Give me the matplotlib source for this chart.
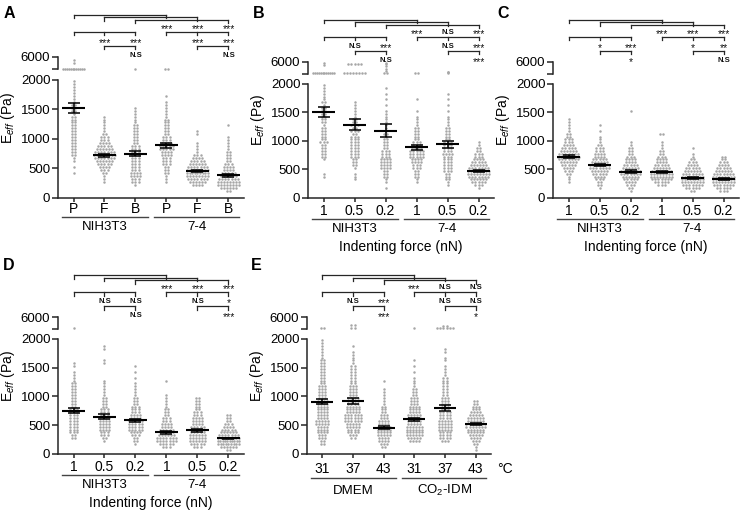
import numpy as np
import matplotlib
matplotlib.use('Agg')
import matplotlib.pyplot as plt
from matplotlib.transforms import blended_transform_factory

plt.rcParams['font.family'] = ['Liberation Sans', 'DejaVu Sans']
plt.rcParams['mathtext.fontset'] = 'custom'
plt.rcParams['mathtext.rm'] = 'Liberation Sans'
plt.rcParams['mathtext.it'] = 'Liberation Sans:italic'
plt.rcParams['mathtext.bf'] = 'Liberation Sans:bold'

# dots per 50 Pa row, from 0 Pa upward; values above the axis break kept apart
BIN = 50

counts_A = [
    [0,0,0,0,0,0,0,0,1,0, 1,0,1,1,2,2,2,2,2,2, 2,2,2,2,2,2,2,2,1,2, 2,2,1,1,1,1,1,1,1,1],
    [0,0,0,0,0,1,1,1,2,3, 4,5,6,7,8,7,6,5,4,3, 3,2,1,1,1,1,1,1],
    [0,0,0,0,1,3,3,4,4,3, 3,3,3,3,3,3,3,3,2,2, 2,2,2,2,2,1,1,1,1,1, 1],
    [0,0,0,0,0,1,1,1,2,2, 2,3,3,3,4,4,5,5,4,3, 3,2,2,2,2,2,2,1,1,1, 1,1,1,0,1],
    [0,0,0,0,4,6,7,8,9,8, 7,6,5,4,3,1,1,1,1,0, 0,1,1],
    [0,0,2,6,8,8,7,6,5,4, 4,3,2,2,2,2,1,1,1,1, 1,0,0,0,1],
]
high_A = [[2300] * 12 + [4000, 5000], [], [2300], [2300, 2300], [], []]
mean_A = [1520, 720, 750, 890, 450, 380]
sem_A = [90, 22, 40, 45, 15, 20]
stars_A = ['***', '***', '***', '***', '***', '***', '***', 'N.S', 'N.S']

counts_B = [
    [0,0,0,0,0,0,0,1,1,0, 0,0,0,1,2,2,2,2,2,3, 2,2,2,2,2,1,2,2,2,2, 2,2,1,2,1,1,1,1,1,1],
    [0,0,0,0,0,0,1,1,1,0, 1,2,2,2,3,3,3,3,3,3, 3,3,2,3,2,3,2,2,1,1, 1,1,1,1],
    [0,0,0,1,0,1,1,2,2,2, 4,4,4,4,3,3,3,2,2,2, 2,1,2,1,1,1,1,1,1,1, 1,0,1,0,1,0,1,0,1],
    [0,0,0,0,0,1,1,2,2,2, 3,3,4,4,5,5,5,4,3,3, 2,2,2,2,2,1,1,1,1,0, 1,0,0,0,1],
    [0,0,0,0,1,1,2,2,2,3, 3,3,3,3,3,4,3,3,3,3, 2,2,2,2,2,1,1,1,1,0, 1,0,1,0,1,0,1],
    [0,0,0,1,3,5,6,7,8,8, 7,6,5,4,3,3,2,2,1,1],
]
high_B = [[2300] * 12 + [5000, 5600], [2300] * 8 + [5200] * 5,
          [2300, 2300, 3000, 3800, 4500, 5200, 5600], [2300, 2300], [2300, 2500, 2800], []]
mean_B = [1500, 1280, 1180, 890, 940, 470]
sem_B = [90, 95, 110, 45, 60, 15]
stars_B = ['***', 'N.S', '***', 'N.S', '***', 'N.S', '***', 'N.S', '***']

counts_C = [
    [0,0,0,0,0,1,1,1,2,3, 4,5,6,7,8,7,6,5,4,3, 3,2,2,1,1,1,1,1],
    [0,0,0,1,2,2,3,4,5,6, 7,7,6,5,4,4,3,3,2,1, 1,1,0,1,0,1],
    [0,0,1,2,3,4,5,6,7,7, 6,5,4,4,3,2,2,2,1,1, 0,0,0,0,0,0,0,0,0,0, 1],
    [0,0,0,0,3,5,7,8,8,7, 6,5,4,4,3,2,2,1,1,1, 0,0,2],
    [0,0,2,5,7,8,9,8,7,6, 5,4,3,2,1,1,0,1],
    [0,0,3,5,7,8,9,8,7,6, 5,4,3,2,2],
]
high_C = [[], [], [], [], [], []]
mean_C = [720, 580, 460, 450, 350, 330]
sem_C = [25, 22, 22, 20, 12, 12]
stars_C = ['***', '***', '***', '*', '***', '*', '**', '*', 'N.S']

counts_D = [
    [0,0,0,0,0,2,2,3,3,3, 3,3,3,3,3,3,2,2,2,2, 2,2,2,2,2,1,1,1,1,0, 1,1],
    [0,0,0,0,1,2,3,3,4,4, 4,4,4,3,3,3,2,2,2,2, 1,1,1,1,1,1,0,0,0,0, 0,1,1,0,0,0,1,1],
    [0,0,0,1,2,2,3,4,5,5, 5,5,4,4,3,3,3,2,2,2, 1,1,1,1,1,0,1,0,1,0, 1],
    [0,0,3,5,7,7,6,5,5,4, 4,3,3,2,2,2,1,1,1,1, 1,0,0,0,0,1],
    [0,0,3,5,6,6,6,5,5,5, 4,4,4,3,3,2,2,2,2,2],
    [0,2,6,9,10,9,7,6,5,4, 3,2,2,2],
]
high_D = [[2300], [], [], [], [], []]
mean_D = [750, 650, 585, 380, 410, 270]
sem_D = [45, 40, 30, 25, 22, 12]
stars_D = ['***', '***', '***', 'N.S', 'N.S', 'N.S', '*', 'N.S', '***']

counts_E = [
    [0,0,0,2,2,3,3,4,4,4, 5,5,4,4,4,4,4,4,4,3, 3,3,3,3,2,2,2,2,2,2, 2,2,2,1,1,1,1,1,1,1],
    [0,0,0,0,0,2,3,4,4,5, 5,6,6,6,5,5,5,4,4,4, 3,3,3,3,2,2,2,2,2,2, 2,1,1,1,1,1,0,1],
    [0,0,2,3,4,4,5,5,5,5, 4,4,3,3,2,2,2,1,1,1, 1,1,1,0,0,1],
    [0,0,0,0,4,5,6,6,6,6, 5,5,5,5,4,4,4,3,3,3, 2,2,2,1,1,1,1,0,1,0, 1,0,1],
    [0,0,0,0,3,4,4,4,5,5, 5,5,4,4,4,3,3,3,3,3, 2,2,2,2,2,2,2,1,1,1, 1,0,1,1,0,1,1],
    [0,1,1,2,3,4,5,6,6,7, 7,6,6,5,4,3,3,2,2],
]
high_E = [[2300, 2300], [2300, 2300, 3500, 3500], [], [2300], [2300] * 6 + [3000, 3000], []]
mean_E = [910, 920, 460, 600, 800, 520]
sem_E = [50, 45, 25, 30, 50, 22]
stars_E = ['***', 'N.S', 'N.S', 'N.S', '***', 'N.S', 'N.S', '***', '*']

ticks_cells = ['P', 'F', 'B', 'P', 'F', 'B']
ticks_force = ['1', '0.5', '0.2', '1', '0.5', '0.2']
ticks_temp = ['31', '37', '43', '31', '37', '43']
groups_cells = ['NIH3T3', '7-4']
groups_media = ['DMEM', 'CO$_2$-IDM']

DOT = '#a6a6a6'
AXC = '#262626'
W, H = 740, 515


# broken y axis: 0-2000 linear, then a short compressed part up to 6000
def fwd(v):
    v = np.asarray(v, float)
    return np.where(v <= 2000, v, 2170 + (v - 2000) * 0.0525)


def inv(t):
    t = np.asarray(t, float)
    return np.where(t <= 2000, t, 2000 + np.clip(t - 2170, 0, None) / 0.0525)


def dot_rows(x, counts, high):
    rows = [(BIN * i + BIN / 2, n) for i, n in enumerate(counts) if n]
    if high:
        vals, nums = np.unique(high, return_counts=True)
        rows += list(zip(vals, nums))
    xs, ys = [], []
    for v, n in rows:
        step = min(0.1, 0.75 / n)
        xs.extend(x + (np.arange(n) - (n - 1) / 2) * step)
        ys.extend([v] * n)
    return xs, ys


def bracket(ax, hpx, xs, up, drop=3.5):
    tr = blended_transform_factory(ax.transData, ax.transAxes)
    y0 = 1 + up / hpx
    y1 = 1 + (up - drop) / hpx
    ax.plot([xs[0], xs[-1]], [y0, y0], transform=tr, color=AXC, lw=0.9, clip_on=False)
    for x in xs:
        ax.plot([x, x], [y0, y1], transform=tr, color=AXC, lw=0.9, clip_on=False)


def label(ax, hpx, x, up, s):
    tr = blended_transform_factory(ax.transData, ax.transAxes)
    if '*' in s:
        ax.text(x, 1 + (up - 6.5) / hpx, s, transform=tr, ha='center', va='baseline',
                fontsize=7.5, color='#111111')
    else:
        ax.text(x, 1 + (up - 2.8) / hpx, s, transform=tr, ha='center', va='baseline',
                fontsize=5.5, weight='bold', color='#111111')


def draw_panel(box, letter, letter_xy, counts, high, mean, sem, stars, ticks, groups,
               title=None, line_px=21, group_px=34.5, tick_pad=1.0):
    left, top, right, bottom = box
    hpx = bottom - top
    ax = fig.add_axes([left / W, 1 - bottom / H, (right - left) / W, hpx / H])
    ax.set_yscale('function', functions=(fwd, inv))
    x = np.arange(1, 7)

    for xi, c, h in zip(x, counts, high):
        px, py = dot_rows(xi, c, h)
        ax.scatter(px, py, s=3.2, color=DOT, lw=0, zorder=2)
    ax.hlines(mean, x - 0.36, x + 0.36, color='k', lw=1.5, zorder=3)
    ax.errorbar(x, mean, yerr=sem, fmt='none', ecolor='k', elinewidth=1.1,
                capsize=4.2, capthick=1.1, zorder=3)

    ax.set_xlim(0.5, 6.5)
    ax.set_ylim(0, 6000)
    for side in ['top', 'right', 'left']:
        ax.spines[side].set_visible(False)
    ax.spines['bottom'].set_color(AXC)
    ax.spines['bottom'].set_linewidth(1.1)
    tr_y = blended_transform_factory(ax.transAxes, ax.transData)
    ax.plot([0, 0], [0, 2000], transform=tr_y, color=AXC, lw=1.1, clip_on=False)
    ax.plot([0, 0], [2001, 6000], transform=tr_y, color=AXC, lw=1.1, clip_on=False)

    ax.set_yticks([0, 500, 1000, 1500, 2000, 2001, 6000],
                  ['0', '500', '1000', '1500', '2000', '', '6000'])
    ax.set_xticks(x, ticks)
    ax.tick_params(axis='y', length=4, width=1.1, pad=1.5, labelsize=9.5, color=AXC)
    ax.tick_params(axis='x', length=3, width=1.1, pad=tick_pad, labelsize=10, color=AXC)
    ax.set_ylabel(r'E$_{eff}$ (Pa)', fontsize=10)
    ax.yaxis.set_label_coords(-0.222, 0.57)

    # group names under the ticks
    tr = blended_transform_factory(ax.transData, ax.transAxes)
    for (a, b), name in zip([(0.62, 3.4), (3.6, 6.35)], groups):
        ax.plot([a, b], [-line_px / hpx] * 2, transform=tr, color='#444444',
                lw=1.0, clip_on=False)
        ax.text((a + b) / 2, -group_px / hpx, name, transform=tr, ha='center',
                va='baseline', fontsize=9.5)
    if title:
        ax.text(3.5, -52.5 / hpx, title, transform=tr, ha='center', va='baseline',
                fontsize=10)

    # significance brackets
    bracket(ax, hpx, [1, 4], 42)
    bracket(ax, hpx, [2, 5], 39.5)
    bracket(ax, hpx, [3, 6], 37)
    bracket(ax, hpx, [1, 2, 3], 25)
    bracket(ax, hpx, [4, 5, 6], 25)
    bracket(ax, hpx, [2, 3], 11)
    bracket(ax, hpx, [5, 6], 11)
    spots = [(4, 31), (5, 31), (6, 31), (2, 17), (3, 17), (5, 17), (6, 17), (3, 3), (6, 3)]
    for (sx, up), s in zip(spots, stars):
        label(ax, hpx, sx, up, s)

    fig.text(letter_xy[0] / W, 1 - letter_xy[1] / H, letter, fontsize=11.5,
             weight='bold', ha='center', va='center')
    return ax


fig = plt.figure(figsize=(7.4, 5.15), dpi=100)

draw_panel((58, 57, 244, 198), 'A', (9, 13), counts_A, high_A, mean_A, sem_A,
           stars_A, ticks_cells, groups_cells, line_px=19, group_px=31.6, tick_pad=0)
draw_panel((308, 62, 494, 198), 'B', (259, 13), counts_B, high_B, mean_B, sem_B,
           stars_B, ticks_force, groups_cells, title='Indenting force (nN)')
draw_panel((553, 62, 739, 198), 'C', (503, 13), counts_C, high_C, mean_C, sem_C,
           stars_C, ticks_force, groups_cells, title='Indenting force (nN)')
draw_panel((58, 317, 244, 454), 'D', (9, 265), counts_D, high_D, mean_D, sem_D,
           stars_D, ticks_force, groups_cells, title='Indenting force (nN)')
draw_panel((307, 317, 491, 454), 'E', (256, 266), counts_E, high_E, mean_E, sem_E,
           stars_E, ticks_temp, groups_media, line_px=24, group_px=40, tick_pad=2.5)
fig.text(497 / W, 1 - 469 / H, '°C', fontsize=10, ha='left', va='center')

fig.savefig('out.png', dpi=100)
